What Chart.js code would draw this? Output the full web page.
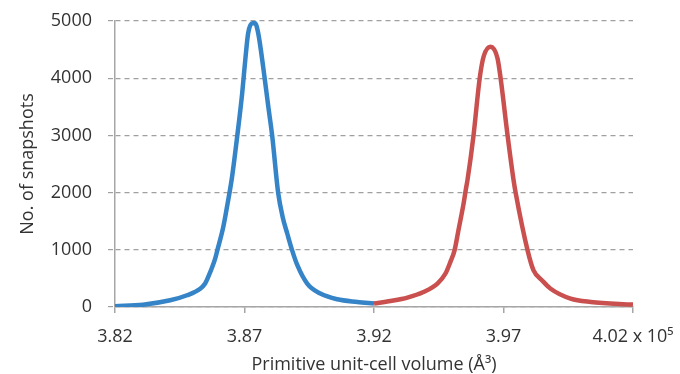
<!DOCTYPE html>
<html>
<head>
<meta charset="utf-8">
<script src="https://cdn.jsdelivr.net/npm/chart.js@4/dist/chart.umd.min.js"></script>
<style>
  html, body { margin: 0; padding: 0; background: #ffffff; }
  #wrap { width: 680px; height: 374px; }
</style>
</head>
<body>
<div id="wrap"><canvas id="c" width="680" height="374"></canvas></div>
<script>
// Primitive unit-cell volume (x 10^5 Å^3) and number of snapshots
const blueVolume = [3.8200, 3.8308, 3.8413, 3.8478, 3.8529, 3.8548, 3.8560, 3.8587, 3.8595, 3.8618, 3.8630, 3.8652, 3.8672, 3.8691, 3.8703, 3.8714, 3.8730, 3.8741, 3.8753, 3.8772, 3.8792, 3.8807, 3.8830, 3.8848, 3.8865, 3.8884, 3.8904, 3.8942, 3.8993, 3.9058, 3.9136, 3.9200];
const blueCount  = [15, 40, 117, 205, 320, 410, 525, 850, 990, 1400, 1690, 2275, 2990, 3735, 4320, 4785, 4960, 4960, 4785, 4200, 3500, 2990, 1995, 1560, 1285, 990, 730, 410, 235, 135, 88, 60];

const redVolume = [3.9200, 3.9264, 3.9329, 3.9391, 3.9445, 3.9476, 3.9495, 3.9511, 3.9526, 3.9546, 3.9554, 3.9561, 3.9584, 3.9608, 3.9623, 3.9650, 3.9677, 3.9689, 3.9716, 3.9739, 3.9747, 3.9793, 3.9816, 3.9850, 3.9882, 3.9959, 4.0037, 4.0200];
const redCount  = [60, 105, 165, 263, 410, 585, 790, 990, 1340, 1810, 2040, 2220, 2990, 3995, 4375, 4550, 4345, 3995, 2990, 2215, 1995, 990, 640, 460, 320, 147, 88, 42];

const xTicks = [3.82, 3.87, 3.92, 3.97, 4.02];
const yTicks = [0, 1000, 2000, 3000, 4000, 5000];

const toPts = (xs, ys) => xs.map((x, i) => ({x: x, y: ys[i]}));
const textColor = '#333333';
const axisColor = '#a6a6a6';
const font = {family: '"Open Sans", "Liberation Sans", sans-serif', size: 18};

new Chart(document.getElementById('c'), {
  type: 'line',
  data: {
    datasets: [
      {data: toPts(blueVolume, blueCount), borderColor: '#3584c7', borderWidth: 4.5, pointRadius: 0, cubicInterpolationMode: 'monotone', fill: false},
      {data: toPts(redVolume, redCount), borderColor: '#c9504e', borderWidth: 4.5, pointRadius: 0, cubicInterpolationMode: 'monotone', fill: false}
    ]
  },
  options: {
    responsive: false,
    animation: false,
    devicePixelRatio: 1,
    layout: {padding: {left: 0, right: 47, top: 21, bottom: 0}},
    plugins: {legend: {display: false}, tooltip: {enabled: false}},
    scales: {
      x: {
        type: 'linear', min: 3.82, max: 4.02,
        afterBuildTicks: s => { s.ticks = xTicks.map(v => ({value: v})); },
        afterFit: s => { s.height = 67; s.paddingLeft = 0; s.paddingRight = 0; s.paddingTop = 0; s.paddingBottom = 0; },
        ticks: {
          color: textColor, font: font, padding: 13, maxRotation: 0, autoSkip: false,
          callback: (v) => (Math.abs(v - 4.02) < 1e-6 ? '4.02 x 10\u2075' : Number(v).toFixed(2))
        },
        grid: {drawOnChartArea: false, drawTicks: true, tickLength: 6, color: axisColor, lineWidth: 1.5},
        border: {display: true, color: axisColor, width: 1.5},
        title: {display: true, text: 'Primitive unit-cell volume (\u00C5\u00B3)', color: textColor, font: {family: font.family, size: 18, lineHeight: 1}, padding: {top: 0, bottom: 0}}
      },
      y: {
        min: 0, max: 5000,
        afterBuildTicks: s => { s.ticks = yTicks.map(v => ({value: v})); },
        afterFit: s => { s.width = 115; s.paddingLeft = 0; s.paddingRight = 0; s.paddingTop = 0; s.paddingBottom = 0; },
        ticks: {color: textColor, font: font, padding: 16, callback: v => String(v)},
        grid: {color: '#a0a0a0', lineWidth: 1.2, tickLength: 7, tickBorderDash: [5, 4]},
        border: {display: true, color: axisColor, width: 1.5, dash: [5, 4]},
        title: {display: true, text: 'No. of snapshots', color: textColor, font: {family: font.family, size: 18, lineHeight: 1.2}, padding: {top: 17, bottom: 0}}
      }
    }
  }
});
</script>
</body>
</html>
